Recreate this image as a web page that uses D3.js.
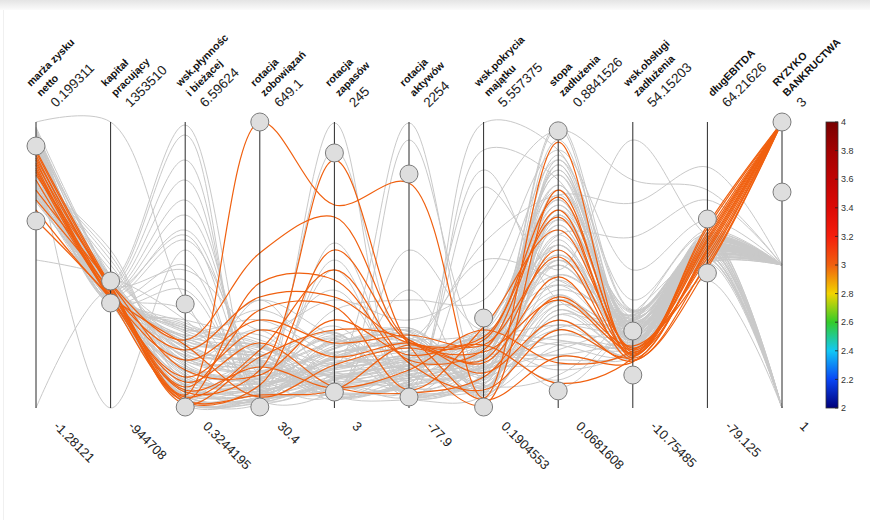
<!DOCTYPE html>
<html>
<head>
<meta charset="utf-8">
<script src="https://cdn.jsdelivr.net/npm/d3@7"></script>
<style>
  html, body { margin: 0; padding: 0; background: #ffffff; }
  svg { display: block; }
</style>
</head>
<body>
<svg id="chart" width="870" height="520"></svg>
<script>
// Axis titles (one entry per line of the wrapped title)
const axisTitles = [
  ["marża zysku", "netto"],
  ["kapitał", "pracujący"],
  ["wsk.płynnośc", "i bieżącej"],
  ["rotacja", "zobowiązań"],
  ["rotacja", "zapasów"],
  ["rotacja", "aktywów"],
  ["wsk.pokrycia", "majątku"],
  ["stopa", "zadłużenia"],
  ["wsk.obsługi", "zadłużenia"],
  ["długEBITDA"],
  ["RYZYKO", "BANKRUCTWA"]
];

// Axis extents (bottom and top labels)
const axisMin = [-1.28121, -944708, 0.3244195, 30.4, 3, -77.9, 0.1904553, 0.0681608, -10.75485, -79.125, 1];
const axisMax = [0.199311, 1353510, 6.59624, 649.1, 245, 2254, 5.557375, 0.8841526, 54.15203, 64.21626, 3];

// Active filter range on every axis (lower / upper handle)
const filterLow  = [-0.313, -101000, 0.346, 32.6, 16.5, 11.8, 0.209, 0.117, -3.27, -11.46, 2.51];
const filterHigh = [0.075, 75800, 2.605, 649.1, 218.8, 1830.0, 1.879, 0.859, 6.72, 15.60, 3];

// Colour bar
const colorTicks = [2, 2.2, 2.4, 2.6, 2.8, 3, 3.2, 3.4, 3.6, 3.8, 4];
const colorRamp = ["#00007a", "#0a46f5", "#12c8f5", "#33cc2a", "#f2d400", "#f0600f",
                   "#f51e0c", "#dc0a06", "#c00404", "#a20202", "#780000"];

// Companies: marża, kapitał, płynność, rot. zobowiązań, rot. zapasów, rot. aktywów,
// pokrycie majątku, stopa zadłużenia, obsługa zadłużenia, dług/EBITDA, ryzyko
const records = [
  [0.199, 1353510, 2.693, 58.5, 26.7, 313.5, 1.654, 0.662, 6.94, 2.57, 2],
  [-0.515, 108000, 2.254, 69.3, 18.2, 150.4, 0.904, 0.490, 4.68, 0.06, 2],
  [-1.281, 3500, 0.609, 43.3, 22.5, 28.1, 0.716, 0.376, 3.54, -2.44, 1],
  [0.158, 83900, 6.530, 47.7, 244.2, 28.1, 1.091, 0.747, 5.81, 5.08, 2],
  [0.132, 59800, 6.311, 52.0, 35.2, 2245.8, 0.716, 0.605, 9.21, 6.08, 2],
  [0.116, 43700, 5.763, 65.0, 43.6, 109.6, 5.539, 0.804, 8.08, 4.07, 2],
  [0.106, 19600, 5.324, 80.2, 60.5, 231.9, 1.279, 0.876, 11.49, 3.07, 2],
  [0.096, 3500, 4.885, 91.0, 221.3, 313.5, 0.528, 0.548, 2.41, 2.07, 2],
  [0.080, -12600, 4.557, 101.8, 14.0, 2107.2, 1.467, 0.405, 10.35, 1.07, 1],
  [0.065, -28600, 4.228, 112.6, 22.5, 68.9, 5.032, 0.719, 6.94, 0.06, 2],
  [0.054, -44700, 4.008, 134.2, 30.9, 150.4, 4.338, 0.462, 50.07, 7.08, 2],
  [0.044, -944708, 3.789, 36.9, 142.6, 191.1, 0.904, 0.291, 1.27, -0.94, 2],
  [0.028, -76900, 3.460, 47.7, 18.2, 884.2, 0.435, 0.348, 3.54, -1.94, 1],
  [0.013, -92900, 3.131, 58.5, 26.7, 395.0, 3.287, 0.676, 35.77, 41.66, 2],
  [0.003, -109000, 2.912, 69.3, 128.2, 109.6, 0.810, 0.633, 5.13, -2.94, 2],
  [-0.008, -125100, 2.254, 177.5, 39.4, 313.5, 1.091, 0.562, 28.05, 25.12, 2],
  [-0.023, 124000, 2.035, 220.8, 47.8, 231.9, 0.622, 0.776, 7.40, -3.95, 1],
  [-0.039, 164200, 1.815, 242.4, 56.3, 558.1, 0.904, 0.490, 8.76, -4.95, 2],
  [-0.049, 204400, 1.596, 264.0, 64.8, 476.5, 2.968, 0.433, 9.67, -5.95, 2],
  [-0.060, 244600, 1.377, 199.1, 14.0, -12.7, 0.435, 0.590, 4.22, 5.58, 2],
  [-0.075, 284800, 1.157, 155.9, 102.8, 191.1, 1.373, 0.647, 11.03, 4.57, 2],
  [-0.091, 324900, 0.938, 123.4, 9.8, 272.7, 1.560, 0.262, 2.86, 3.57, 1],
  [-0.101, 35600, 0.828, 101.8, 35.2, 354.2, 1.185, 0.704, 5.58, 2.57, 2],
  [-0.116, 11500, 0.719, 86.7, 26.7, 435.8, 0.997, 0.619, 7.62, 1.57, 2],
  [-0.132, -4500, 0.609, 73.7, 30.9, 52.6, 0.566, 0.376, 6.49, 0.57, 2],
  [-0.153, -20600, 0.500, 62.8, 39.4, 517.3, 0.754, 0.319, 0.59, -0.44, 1],
  [-0.179, -36700, 0.390, 52.0, 47.8, 574.4, 0.491, 0.248, 3.77, -1.44, 2],
  [-0.204, -52700, 1.267, 41.2, 22.5, 11.8, 1.467, 0.448, 10.12, -2.44, 2],
  [0.168, -68800, 1.486, 134.2, 16.5, 134.1, 1.748, 0.519, 4.90, -3.44, 2],
  [0.148, -84900, 1.705, 166.7, 19.9, 215.6, 1.617, 0.690, 8.98, -4.45, 1],
  [0.122, -101000, 1.925, 188.3, 28.4, 248.2, 1.317, 0.576, 6.26, -5.45, 2],
  [0.085, -117000, 2.144, 91.0, 36.9, 297.2, 1.129, 0.505, 7.85, -6.45, 2],
  [0.070, 51700, 1.048, 65.0, 45.3, 378.7, 0.941, 0.476, 5.35, 6.58, 2],
  [0.039, 27600, 0.828, 45.5, 53.8, 460.2, 0.660, 0.391, 3.09, 5.08, 1],
  [0.018, 11500, 0.543, 39.0, 62.2, 541.8, 0.378, 0.348, 1.95, 4.07, 2],
  [-0.013, -12600, 0.653, 56.3, 14.0, 85.2, 0.866, 0.234, 9.44, 3.07, 2],
  [-0.028, -36700, 0.763, 71.5, 25.0, 166.7, 1.054, 0.533, 7.17, 2.07, 1],
  [-0.044, -60800, 0.982, 82.3, 33.5, 264.5, 1.241, 0.662, 4.45, 1.07, 2],
  [-0.065, -76900, 1.201, 97.5, 41.9, 329.8, 1.429, 0.747, 8.30, 0.06, 2],
  [-0.080, 108000, 1.420, 110.5, 50.4, 411.3, 1.617, 0.605, 10.80, -0.94, 2],
  [-0.106, 67800, 1.640, 121.3, 58.8, 492.9, 0.585, 0.433, 3.31, -1.94, 1],
  [-0.122, -44700, 1.859, 145.1, 67.3, 28.1, 0.773, 0.305, 1.05, -2.94, 2],
  [-0.142, -68800, 2.078, 166.7, 13.2, 109.6, 0.960, 0.276, 6.03, -3.95, 2],
  [-0.168, -84900, 0.456, 47.7, 21.6, 191.1, 1.147, 0.205, 1.73, -4.95, 2],
  [-0.194, -101000, 0.587, 52.0, 30.1, 272.7, 1.335, 0.148, 9.89, 7.58, 1],
  [0.137, 91900, 0.872, 60.7, 38.5, 354.2, 1.523, 0.533, 3.99, 6.08, 2],
  [0.111, 116000, 1.091, 75.8, 47.0, 435.8, 0.472, 0.619, 6.72, 4.57, 2],
  [0.091, 35600, 1.311, 88.8, 55.4, 517.3, 0.660, 0.690, 8.53, 3.07, 2],
  [0.075, 19600, 1.530, 106.1, 63.9, 3.6, 0.848, 0.762, 4.90, 1.57, 1],
  [0.049, 3500, 1.749, 119.1, 72.4, 85.2, 1.035, 0.833, 11.26, 0.57, 2],
  [0.023, -12600, 1.969, 132.1, 13.2, 166.7, 1.223, 0.867, 6.94, -0.44, 2],
  [-0.002, -28600, 2.188, 147.3, 19.1, 248.2, 1.410, 0.733, 2.41, -1.44, 2],
  [-0.034, 67800, 0.434, 54.2, 27.5, 329.8, 1.598, 0.419, 3.99, -2.44, 1],
  [-0.054, 27600, 0.522, 67.2, 36.0, 411.3, 0.416, 0.362, 5.81, 8.58, 2],
  [-0.085, -20600, 0.697, 78.0, 44.5, 492.9, 0.603, 0.334, 7.62, 6.58, 2],
  [-0.111, -52700, 0.916, 93.2, 52.9, 574.4, 0.791, 0.296, 9.44, 5.08, 2],
  [-0.137, -76900, 1.135, 108.3, 61.4, 52.6, 0.979, 0.256, 3.54, 3.57, 1],
  [-0.163, 59800, 1.355, 125.6, 12.3, 134.1, 1.166, 0.219, 0.82, 2.07, 2],
  [-0.189, 43700, 1.574, 142.9, 20.8, 215.6, 1.354, 0.177, 2.63, 0.57, 2],
  [-0.215, 11500, 1.793, 160.2, 29.2, 297.2, 1.542, 0.125, 8.76, -0.94, 2],
  [0.173, 75800, 0.587, 49.9, 24.2, 223.8, 1.129, 0.647, 6.26, 3.07, 2],
  [0.153, 59800, 0.806, 67.2, 32.6, 305.3, 1.317, 0.476, 4.45, 7.08, 2],
  [0.127, 43700, 1.026, 84.5, 41.1, 386.9, 1.504, 0.305, 7.17, 1.07, 1],
  [0.101, 27600, 1.245, 101.8, 49.5, 468.4, 1.692, 0.704, 9.89, -0.94, 2],
  [0.060, 11500, 1.465, 119.1, 58.0, 549.9, 0.566, 0.533, 3.54, 5.08, 2],
  [0.034, -4500, 1.684, 136.4, 66.5, 36.3, 0.754, 0.362, 8.08, -2.94, 2],
  [0.008, -20600, 1.903, 153.7, 11.5, 117.8, 0.941, 0.191, 2.18, 8.58, 1],
  [-0.018, -36700, 2.122, 171.0, 19.9, 199.3, 1.129, 0.590, 4.90, -4.95, 2],
  [-0.070, -52700, 0.478, 41.2, 28.4, 280.9, 1.317, 0.419, 8.98, 4.07, 2],
  [-0.096, -68800, 0.697, 58.5, 36.8, 362.4, 1.504, 0.248, 1.27, 0.06, 2],
  [-0.127, -84900, 0.916, 75.8, 45.3, 443.9, 0.378, 0.762, 7.62, 6.08, 1],
  [-0.148, -101000, 1.135, 93.2, 53.8, 525.5, 0.566, 0.619, 3.09, -1.94, 2],
  [-0.173, -117000, 1.355, 110.5, 62.2, 3.6, 0.754, 0.448, 10.35, 2.07, 2],
  [-0.199, 83900, 1.574, 127.7, 15.7, 85.2, 0.941, 0.276, 3.99, 8.08, 2],
  [0.163, 51700, 1.793, 145.1, 24.2, 166.7, 1.129, 0.790, 6.72, -5.95, 1],
  [0.142, 19600, 2.013, 162.4, 32.6, 248.2, 1.317, 0.676, 9.44, 3.07, 2],
  [0.080, -12600, 0.543, 43.3, 41.1, 329.8, 1.504, 0.505, 5.35, 1.07, 2],
  [0.044, -44700, 0.763, 60.7, 49.5, 411.3, 0.435, 0.334, 2.63, 7.08, 2],
  [0.013, -76900, 0.982, 78.0, 58.0, 492.9, 0.622, 0.162, 10.80, -3.95, 1],
  [-0.018, -109000, 1.201, 95.3, 66.5, 19.9, 0.810, 0.562, 7.17, 5.08, 2],
  [-0.049, 91900, 1.420, 112.6, 12.3, 101.4, 0.997, 0.391, 0.82, -0.94, 2],
  [-0.080, 59800, 1.640, 129.9, 20.8, 183.0, 1.185, 0.219, 5.81, 2.57, 2],
  [-0.116, 27600, 1.859, 147.3, 29.2, 264.5, 1.373, 0.733, 8.53, 5.58, 1],
  [-0.158, -4500, 2.078, 164.5, 37.7, 346.1, 1.560, 0.476, 4.45, -2.44, 2],
  [-0.184, -36700, 0.434, 52.0, 46.2, 427.6, 0.491, 0.633, 11.26, 0.57, 2],
  [0.111, 3500, 4.118, 91.0, 85.9, 802.7, 2.217, 0.776, 13.75, 10.09, 2],
  [0.023, 43700, 3.350, 199.1, 94.4, 639.6, 2.593, 0.804, 20.56, 15.10, 2],
  [-0.054, -28600, 2.473, 80.2, 119.8, 68.9, 3.718, 0.861, 40.99, 30.13, 2],
  [0.070, -60800, 0.609, 134.2, 14.0, 1210.4, 1.654, 0.490, 4.68, -14.97, 1],
  [-0.028, -92900, 0.828, 264.0, 26.7, 313.5, 4.657, 0.376, 9.21, -2.44, 2],
  // high-risk group
  [0.054, 43700, 0.609, 649.1, 174.8, 1756.6, 0.378, 0.827, 1.27, 5.08, 3],
  [0.044, 27600, 0.675, 112.6, 212.8, 435.8, 0.247, 0.690, 1.95, 7.58, 3],
  [0.028, 59800, 1.815, 365.7, 164.6, 476.5, 1.467, 0.670, 2.41, 2.57, 3],
  [0.013, 3500, 0.500, 300.8, 111.3, 313.5, 1.279, 0.633, 0.59, 0.06, 3],
  [0.003, -12600, 1.596, 270.5, 96.9, 452.1, 1.523, 0.613, 1.05, 11.09, 3],
  [-0.013, 19600, 0.785, 242.4, 88.5, 68.9, 1.711, 0.576, 2.86, -2.44, 3],
  [-0.023, -36700, 1.377, 220.8, 58.0, 517.3, 1.373, 0.499, 0.14, -5.95, 3],
  [-0.039, -52700, 1.004, 199.1, 46.2, 452.1, 1.035, 0.442, 1.73, 9.09, 3],
  [-0.049, -20600, 0.894, 171.0, 20.8, 44.4, 0.773, 0.385, 3.31, -3.95, 3],
  [-0.060, -76900, 0.565, 155.9, 119.8, 289.0, 0.528, 0.291, 0.82, 12.59, 3],
  [-0.075, 35600, 0.412, 140.7, 69.0, 476.5, 0.341, 0.214, -0.32, 1.07, 3],
  [-0.101, -60800, 0.719, 119.1, 19.9, 231.9, 1.654, 0.197, 2.18, -7.45, 3],
  [-0.153, 51700, 1.157, 101.8, 77.5, 354.2, 1.373, 0.139, 0.59, 6.08, 3],
  [-0.204, -4500, 0.456, 80.2, 136.7, 460.2, 1.241, 0.376, 2.63, 4.07, 3],
  [-0.256, -44700, 1.705, 54.2, 39.4, 411.3, 1.091, 0.519, 1.50, -0.94, 3],
  [-0.308, -68800, 0.500, 58.5, 18.2, 435.8, 0.848, 0.319, -0.09, -8.96, 3]
];

const svg = d3.select("#chart");
const W = 870, H = 520;
const yTop = 122, yBottom = 408;
const font = "'Liberation Sans', Arial, sans-serif";

// Page frame
const defs = svg.append("defs");
const band = defs.append("linearGradient").attr("id", "band").attr("x1", 0).attr("x2", 0).attr("y1", 0).attr("y2", 1);
band.append("stop").attr("offset", 0).attr("stop-color", "#e4e4e4");
band.append("stop").attr("offset", 1).attr("stop-color", "#fbfbfb");
svg.append("rect").attr("width", W).attr("height", H).attr("fill", "#ffffff");
svg.append("rect").attr("width", W).attr("height", 10).attr("fill", "url(#band)");
svg.append("line").attr("x1", 3.5).attr("x2", 3.5).attr("y1", 10).attr("y2", H)
  .attr("stroke", "#f0f0f0");

const dims = d3.range(axisTitles.length);
const x = d3.scalePoint().domain(dims).range([36, 782]);
const y = dims.map(i => d3.scaleLinear().domain([axisMin[i], axisMax[i]]).range([yBottom, yTop]));

const color = d3.scaleLinear().domain(colorTicks).range(colorRamp);
const eps = 1e-9;
const isActive = r => r.every((v, i) => v >= filterLow[i] - eps && v <= filterHigh[i] + eps);

const path = d3.line()
  .curve(d3.curveCatmullRom.alpha(0.5))
  .x((d, i) => x(i))
  .y((d, i) => y[i](d));

// Lines outside the filter, then the selected ones on top
const plot = svg.append("g");
plot.selectAll("path.off")
  .data(records.filter(r => !isActive(r)))
  .join("path")
  .attr("class", "off")
  .attr("d", path)
  .attr("fill", "none")
  .attr("stroke", "#c9c9c9")
  .attr("stroke-width", 1);

plot.selectAll("path.on")
  .data(records.filter(isActive))
  .join("path")
  .attr("class", "on")
  .attr("d", path)
  .attr("fill", "none")
  .attr("stroke", d => color(d[d.length - 1]))
  .attr("stroke-width", 1.2);

// Axes
const axes = svg.append("g").selectAll("g").data(dims).join("g")
  .attr("transform", i => `translate(${x(i)},0)`);

axes.append("line")
  .attr("y1", yTop).attr("y2", yBottom)
  .attr("stroke", "#2a2a2a").attr("stroke-width", 1);

// Filter handles
axes.each(function (i) {
  const g = d3.select(this);
  [filterLow[i], filterHigh[i]].forEach(v => {
    g.append("circle")
      .attr("cx", 0).attr("cy", y[i](v)).attr("r", 9)
      .attr("fill", "#dedede").attr("stroke", "#7c7c7c").attr("stroke-width", 1);
  });
});

// Titles and maximum values above each axis, minimum values below
axes.each(function (i) {
  const g = d3.select(this);
  const lines = axisTitles[i];
  const n = lines.length;
  lines.forEach((t, k) => {
    const s = n - 1 - k;
    g.append("text")
      .attr("transform", `translate(${5 - 10 * s},${97 - 10 * s}) rotate(-45)`)
      .attr("font-family", font).attr("font-size", 10.5).attr("font-weight", "bold")
      .attr("fill", "#111")
      .text(t);
  });
  g.append("text")
    .attr("transform", "translate(20,108) rotate(-45)")
    .attr("font-family", font).attr("font-size", 13.5)
    .attr("fill", "#222")
    .text(String(axisMax[i]));
  g.append("text")
    .attr("transform", "translate(17,427) rotate(45)")
    .attr("font-family", font).attr("font-size", 13)
    .attr("fill", "#222")
    .text(String(axisMin[i]));
});

// Colour bar
const cb = d3.scaleLinear().domain([colorTicks[0], colorTicks[colorTicks.length - 1]]).range([yBottom, yTop]);
const grad = defs.append("linearGradient").attr("id", "cbar")
  .attr("x1", 0).attr("x2", 0).attr("y1", 1).attr("y2", 0);
colorTicks.forEach((v, k) => {
  grad.append("stop")
    .attr("offset", (v - colorTicks[0]) / (colorTicks[colorTicks.length - 1] - colorTicks[0]))
    .attr("stop-color", colorRamp[k]);
});
const cbx = 826, cbw = 12;
svg.append("rect")
  .attr("x", cbx).attr("y", cb(4)).attr("width", cbw).attr("height", cb(2) - cb(4))
  .attr("fill", "url(#cbar)").attr("stroke", "#333").attr("stroke-width", 0.8);
const cbTicks = svg.append("g").selectAll("g").data(colorTicks).join("g")
  .attr("transform", v => `translate(0,${cb(v)})`);
cbTicks.append("line")
  .attr("x1", cbx + cbw - 3).attr("x2", cbx + cbw).attr("stroke", "#222").attr("stroke-width", 0.8);
cbTicks.append("text")
  .attr("x", cbx + cbw + 3).attr("dy", "0.35em")
  .attr("font-family", font).attr("font-size", 9).attr("fill", "#333")
  .text(v => String(v));
</script>
</body>
</html>
